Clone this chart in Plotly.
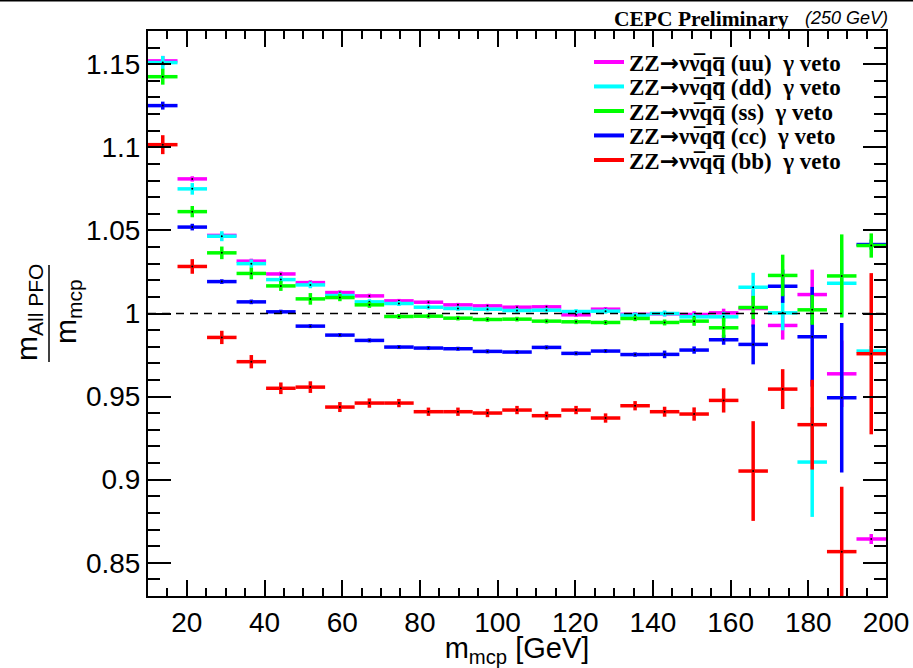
import plotly.graph_objects as go

# ---------------- data ----------------
mass_bins = [13.8, 21.4, 29.0, 36.6, 44.2, 51.8, 59.4, 67.0, 74.6, 82.2, 89.8, 97.4, 105.0,
             112.6, 120.2, 127.8, 135.4, 143.0, 150.6, 158.2, 165.8, 173.4, 181.0, 188.6, 196.2]
half_bin = 3.8

ratio_uu = [1.152, 1.081, 1.047, 1.0315, 1.0238, 1.0186, 1.0126, 1.0106, 1.0076, 1.0068, 1.0052,
            1.0046, 1.0038, 1.004, 0.9992, 1.0026, 0.9995, 0.9998, 0.9994, 1.0004, 1.003, 0.9928,
            1.0114, 0.9637, 0.8643]
err_uu = [0.003, 0.0016, 0.0015, 0.0015, 0.0014, 0.0014, 0.0013, 0.0013, 0.0012, 0.0012, 0.0012,
          0.0012, 0.0012, 0.0012, 0.0013, 0.0013, 0.0014, 0.0015, 0.002, 0.0025, 0.011, 0.0085,
          0.015, 0.02, 0.003]

ratio_dd = [1.151, 1.075, 1.0465, 1.030, 1.0204, 1.0172, 1.0108, 1.007, 1.006, 1.0038, 1.003,
            1.0026, 1.0018, 1.002, 1.0012, 1.0014, 0.999, 1.0, 0.998, 0.998, 1.0158, 1.0004,
            0.9106, 1.0182, 0.9774]
err_dd = [0.004, 0.0035, 0.003, 0.0025, 0.002, 0.002, 0.0018, 0.0016, 0.0015, 0.0014, 0.0014,
          0.0014, 0.0014, 0.0014, 0.0014, 0.0015, 0.0016, 0.0018, 0.0022, 0.003, 0.0087, 0.0105,
          0.033, 0.02, 0.003]

ratio_ss = [1.1425, 1.0613, 1.0365, 1.0241, 1.0166, 1.0088, 1.0096, 1.0052, 0.9982, 0.9984, 0.9972,
            0.9964, 0.9966, 0.9954, 0.995, 0.9946, 0.997, 0.9946, 0.9954, 0.9914, 1.0036, 1.0229,
            1.0022, 1.0226, 1.0409]
err_ss = [0.0048, 0.0034, 0.0038, 0.0035, 0.003, 0.0035, 0.0022, 0.0018, 0.0015, 0.0014, 0.0014,
          0.0014, 0.0014, 0.0014, 0.0014, 0.0015, 0.0016, 0.0018, 0.0028, 0.006, 0.007, 0.0125,
          0.009, 0.025, 0.0073]

ratio_cc = [1.1251, 1.052, 1.0192, 1.007, 1.001, 0.9924, 0.987, 0.9838, 0.9798, 0.9792, 0.9788,
            0.9772, 0.9768, 0.9796, 0.976, 0.9774, 0.9753, 0.9754, 0.978, 0.9842, 0.9814, 1.0164,
            0.986, 0.9493, 1.0415]
err_cc = [0.0024, 0.002, 0.0014, 0.0014, 0.0013, 0.0012, 0.0012, 0.0012, 0.0012, 0.0012, 0.0012,
          0.0012, 0.0012, 0.0012, 0.0012, 0.0012, 0.0013, 0.0023, 0.0022, 0.003, 0.012, 0.01,
          0.03, 0.045, 0.003]

ratio_bb = [1.1016, 1.0283, 0.9856, 0.971, 0.955, 0.9557, 0.9437, 0.9461, 0.9461, 0.9409, 0.9409,
            0.9401, 0.9419, 0.9385, 0.9419, 0.9371, 0.9445, 0.9409, 0.9395, 0.9477, 0.9052, 0.9545,
            0.9331, 0.8567, 0.9758]
err_bb = [0.0057, 0.0044, 0.004, 0.004, 0.0035, 0.0035, 0.003, 0.0028, 0.0025, 0.0025, 0.0025,
          0.0025, 0.0025, 0.0025, 0.0025, 0.0028, 0.0028, 0.003, 0.004, 0.0073, 0.03, 0.012,
          0.027, 0.039, 0.0485]

nu_bar = "\u03bd\u0305"
q_bar = "q\u0305"
arrow = "<span style=\"font-family:DejaVu Sans\">\u2192</span>"
samples = ["uu", "dd", "ss", "cc", "bb"]
labels = {s: f"<b>ZZ{arrow}\u03bd{nu_bar}q{q_bar} ({s}) \u00a0\u03b3 veto</b>" for s in samples}
colors = {"uu": "#ff00ff", "dd": "#00ffff", "ss": "#00ff00", "cc": "#0000ff", "bb": "#ff0000"}
series = {"uu": (ratio_uu, err_uu), "dd": (ratio_dd, err_dd), "ss": (ratio_ss, err_ss),
          "cc": (ratio_cc, err_cc), "bb": (ratio_bb, err_bb)}

draw_order = ["uu", "dd", "cc", "ss", "bb"]
legend_order = ["uu", "dd", "ss", "cc", "bb"]

# ---------------- figure ----------------
W, H = 913, 668
ml, mr, mt, mb = 148, 27, 31, 72
pw, ph = W - ml - mr, H - mt - mb


def px_x(px):
    return (px - ml) / pw


def px_y(py):
    return (H - mb - py) / ph


fig = go.Figure()

for key in draw_order:
    vals, errs = series[key]
    fig.add_trace(go.Scatter(
        x=mass_bins, y=vals, mode="markers",
        marker=dict(size=2, color="black"),
        error_x=dict(type="constant", value=half_bin, color=colors[key], thickness=3.5, width=0),
        error_y=dict(type="data", array=errs, color=colors[key], thickness=3.5, width=0),
        showlegend=False, hoverinfo="skip",
    ))

legend_rows = [62, 86.5, 111, 135.5, 160]
legend_layouts = {}
for i, key in enumerate(legend_order):
    lname = "legend" if i == 0 else f"legend{i + 1}"
    fig.add_trace(go.Scatter(
        x=[None], y=[None], mode="lines", name=labels[key],
        line=dict(color=colors[key], width=4), legend=lname, showlegend=True,
    ))
    legend_layouts[lname] = dict(
        x=px_x(589), y=px_y(legend_rows[i]), xanchor="left", yanchor="middle",
        bgcolor="rgba(0,0,0,0)", borderwidth=0,
        font=dict(family="Liberation Serif", size=23, color="black"),
        itemwidth=30,
    )

fig.update_layout(**legend_layouts)

axis_font = dict(family="Liberation Sans, Arial, sans-serif", size=28, color="black")

fig.update_xaxes(
    range=[10, 200], showgrid=False, zeroline=False, automargin=False,
    showline=True, linewidth=2, linecolor="black", mirror="ticks",
    ticks="inside", ticklen=16, tickwidth=1.5, tickcolor="black",
    tickmode="linear", tick0=0, dtick=20, tickfont=axis_font,
    minor=dict(ticks="inside", ticklen=8, tickwidth=1.5, tickcolor="black", tick0=0, dtick=5),
    title=dict(text="m<sub>mcp</sub> [GeV]",
               font=dict(family="Liberation Sans, Arial, sans-serif", size=29, color="black"),
               standoff=6),
)
fig.update_yaxes(
    range=[0.83, 1.17], showgrid=False, zeroline=False, automargin=False,
    showline=True, linewidth=2, linecolor="black", mirror="ticks",
    ticks="inside", ticklen=23, tickwidth=1.5, tickcolor="black",
    tickmode="linear", tick0=0.85, dtick=0.05, tickfont=axis_font,
    minor=dict(ticks="inside", ticklen=12, tickwidth=1.5, tickcolor="black", tick0=0.8, dtick=0.01),
)

# reference line at ratio 1
fig.add_shape(type="line", xref="x", yref="y", x0=10, x1=200, y0=1, y1=1,
              line=dict(color="black", width=1.5, dash="8px,6px"), layer="above")

# y-axis title as a fraction
title_font = dict(family="Liberation Sans, Arial, sans-serif", size=30, color="black")
fig.add_annotation(text="m<sub>All PFO</sub>", xref="paper", yref="paper",
                   x=px_x(28), y=px_y(313), xanchor="center", yanchor="middle",
                   textangle=-90, showarrow=False, font=title_font)
fig.add_annotation(text="m<sub>mcp</sub>", xref="paper", yref="paper",
                   x=px_x(67), y=px_y(312), xanchor="center", yanchor="middle",
                   textangle=-90, showarrow=False, font=title_font)
fig.add_shape(type="line", xref="paper", yref="paper",
              x0=px_x(49), x1=px_x(49), y0=px_y(265), y1=px_y(362),
              line=dict(color="black", width=1.5))

# header
fig.add_annotation(text="<b>CEPC Preliminary</b>", xref="paper", yref="paper",
                   x=px_x(791), y=px_y(19), xanchor="right", yanchor="middle", showarrow=False,
                   font=dict(family="Liberation Serif", size=21.5, color="black"))
fig.add_annotation(text="<i>(250 GeV)</i>", xref="paper", yref="paper",
                   x=px_x(890), y=px_y(18), xanchor="right", yanchor="middle", showarrow=False,
                   font=dict(family="Liberation Sans, Arial, sans-serif", size=18, color="black"))

# thin frame line at the very top of the canvas
fig.add_shape(type="line", xref="paper", yref="paper", x0=px_x(0), x1=px_x(W), y0=px_y(0.5), y1=px_y(0.5),
              line=dict(color="black", width=2))

fig.update_layout(
    width=W, height=H, margin=dict(l=ml, r=mr, t=mt, b=mb),
    paper_bgcolor="white", plot_bgcolor="white",
    font=dict(family="Liberation Serif", color="black"),
)

fig.write_html("out.html")
